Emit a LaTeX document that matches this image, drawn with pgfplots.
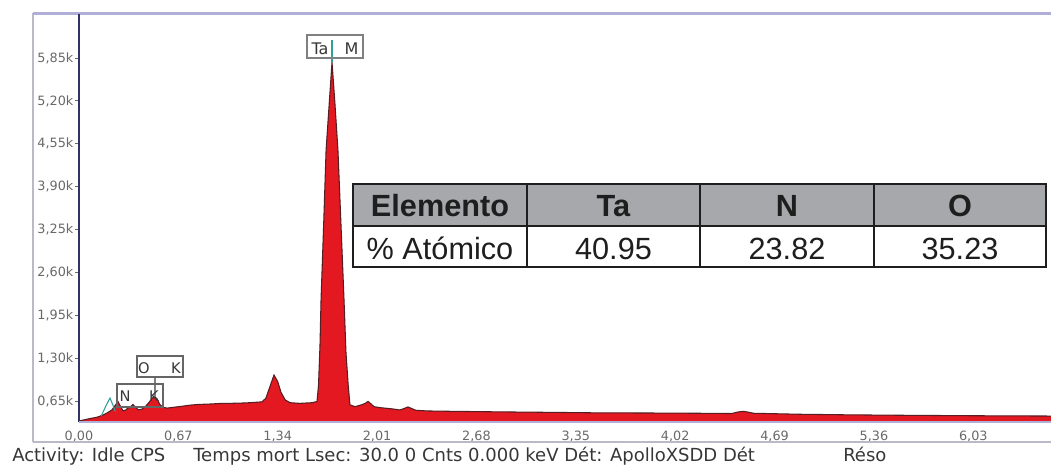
\documentclass[border=0pt]{standalone}
\usepackage{fontspec}
\setmainfont{DejaVu Sans}
\newfontfamily\tabfont{Liberation Sans}
\usepackage{pgfplots}
\usepackage{pgfplotstable}
\pgfplotsset{compat=1.18}
\definecolor{specred}{RGB}{228,24,32}
\definecolor{specdark}{RGB}{85,30,35}
\definecolor{tealline}{RGB}{50,160,150}
\definecolor{framegray}{RGB}{185,185,200}
\definecolor{axisnavy}{RGB}{50,50,100}
\definecolor{lav}{RGB}{175,175,215}
\definecolor{tickgray}{RGB}{105,105,105}
\definecolor{txtgray}{RGB}{55,55,55}
\definecolor{hdrgray}{RGB}{167,168,172}
\definecolor{tabborder}{RGB}{30,30,30}

\pgfplotstableread{
x y
0.000 355
0.040 375
0.074 392
0.121 412
0.162 445
0.196 485
0.223 525
0.245 595
0.263 650
0.280 575
0.297 510
0.315 520
0.330 550
0.350 575
0.364 605
0.380 565
0.400 525
0.425 535
0.450 580
0.475 645
0.495 705
0.512 720
0.528 685
0.545 605
0.565 565
0.593 550
0.647 565
0.700 580
0.748 595
0.800 605
0.883 612
0.950 620
1.018 622
1.100 627
1.153 632
1.234 645
1.260 700
1.285 860
1.315 1051
1.340 950
1.362 790
1.390 675
1.423 632
1.490 622
1.571 632
1.605 650
1.615 900
1.625 1500
1.632 2186
1.650 3350
1.666 4455
1.686 5120
1.706 5787
1.726 5150
1.746 4455
1.767 3300
1.787 2186
1.800 1400
1.815 900
1.827 600
1.861 572
1.908 602
1.930 622
1.949 652
1.970 612
1.989 572
2.030 557
2.100 542
2.165 522
2.195 547
2.218 568
2.245 542
2.272 517
2.350 507
2.502 502
2.839 493
3.176 486
3.513 478
3.850 476
4.187 472
4.400 468
4.440 490
4.477 502
4.510 490
4.550 472
4.862 457
5.200 448
5.536 442
6.000 435
6.554 430
}\spectrum

\pgfplotstableread{
x y
0.150 430
0.185 600
0.209 703
0.228 600
0.245 500
}\greenline

\begin{document}
\begin{tikzpicture}
\path[use as bounding box] (0,0) rectangle (788.25pt,-349.5pt);
\begin{axis}[
  at={(59.25pt,-316.5pt)}, anchor=south west,
  scale only axis, width=729pt, height=305.25pt,
  xmin=0, xmax=6.554, ymin=340, ymax=6500,
  axis line style={draw=none},
  xtick={0,0.67,1.34,2.01,2.68,3.35,4.02,4.69,5.36,6.03},
  xticklabels={{0,00},{0,67},{1,34},{2,01},{2,68},{3,35},{4,02},{4,69},{5,36},{6,03}},
  ytick={650,1300,1950,2600,3250,3900,4550,5200,5850},
  yticklabels={{0,65k},{1,30k},{1,95k},{2,60k},{3,25k},{3,90k},{4,55k},{5,20k},{5,85k}},
  tick label style={font=\fontsize{9.6}{10}\selectfont, text=tickgray},
  xtick style={draw=none},
  ytick style={draw=tickgray, line width=0.6pt},
  tick align=outside, major tick length=3pt,
  yticklabel style={anchor=east, inner sep=0pt, xshift=-1pt},
  xticklabel style={anchor=center, inner sep=0pt, yshift=-7.5pt},
]
\addplot[fill=specred, draw=none] table {\spectrum} \closedcycle;
\addplot[draw=specdark, line width=0.8pt] table {\spectrum};
\addplot[draw=tealline, line width=0.8pt] table {\greenline};
\addplot[draw=gray, line width=1.6pt] coordinates {(0.512,720) (0.512,1006)};
\addplot[draw=tealline, line width=0.8pt] coordinates {(1.706,5787) (1.706,6120)};
\end{axis}
\begin{scope}[x=0.75pt,y=-0.75pt]
  % frames
  \draw[framegray, line width=0.9pt] (33,13) -- (33,442);
  \draw[framegray, line width=0.9pt] (33,442) -- (1051,442);
  \draw[lav, line width=1.6pt] (33,13.5) -- (1051,13.5);
  \draw[axisnavy, line width=0.9pt] (79,14) -- (79,422);
  \draw[lav, line width=0.9pt] (79,422) -- (1051,422);
  % peak labels
  \draw[gray, line width=0.8pt] (307,35) rectangle (363,58);
  \node[anchor=base, inner sep=0pt, font=\fontsize{12}{13}\selectfont, text=txtgray] at (320,55) {Ta};
  \node[anchor=base, inner sep=0pt, font=\fontsize{12}{13}\selectfont, text=txtgray] at (351.5,55) {M};
  \draw[gray!80!black, line width=0.8pt] (137,356) rectangle (183,377);
  \node[anchor=base, inner sep=0pt, font=\fontsize{11}{12}\selectfont, text=txtgray] at (144,374) {O};
  \node[anchor=base, inner sep=0pt, font=\fontsize{11}{12}\selectfont, text=txtgray] at (176,374) {K};
  \draw[gray!80!black, line width=0.8pt] (117,384) rectangle (163,407);
  \node[anchor=base, inner sep=0pt, font=\fontsize{11}{12}\selectfont, text=txtgray] at (125,402) {N};
  \node[anchor=base, inner sep=0pt, font=\fontsize{11}{12}\selectfont, text=txtgray] at (154,402) {K};
  % table
  \fill[hdrgray] (353,184) rectangle (1046,226);
  \fill[white] (353,226) rectangle (1046,267);
  \draw[tabborder, line width=1.9pt] (353,184) rectangle (1046,267);
  \draw[tabborder, line width=1.9pt] (353,226) -- (1046,226);
  \draw[tabborder, line width=1.9pt] (527,184) -- (527,267);
  \draw[tabborder, line width=1.9pt] (700,184) -- (700,267);
  \draw[tabborder, line width=1.9pt] (874,184) -- (874,267);
  \begin{scope}[every node/.style={anchor=base, inner sep=0pt, text=tabborder, font=\tabfont\fontsize{23}{25}\selectfont}]
    \node at (440,217) {\bfseries Elemento};
    \node at (613.5,217) {\bfseries Ta};
    \node at (787,217) {\bfseries N};
    \node at (960,217) {\bfseries O};
    \node at (440,260) {\% Atómico};
    \node at (613.5,260) {40.95};
    \node at (787,260) {23.82};
    \node at (960,260) {35.23};
  \end{scope}
  % status text
  \begin{scope}[every node/.style={anchor=base west, inner sep=0pt, text=txtgray, font=\fontsize{13.5}{15}\selectfont}]
    \node at (12,461.5) {Activity: Idle CPS};
    \node at (193,461.5) {Temps mort Lsec: 30.0 0 Cnts 0.000 keV Dét: ApolloXSDD Dét};
    \node at (843,461.5) {Réso};
  \end{scope}
\end{scope}
\end{tikzpicture}
\end{document}
